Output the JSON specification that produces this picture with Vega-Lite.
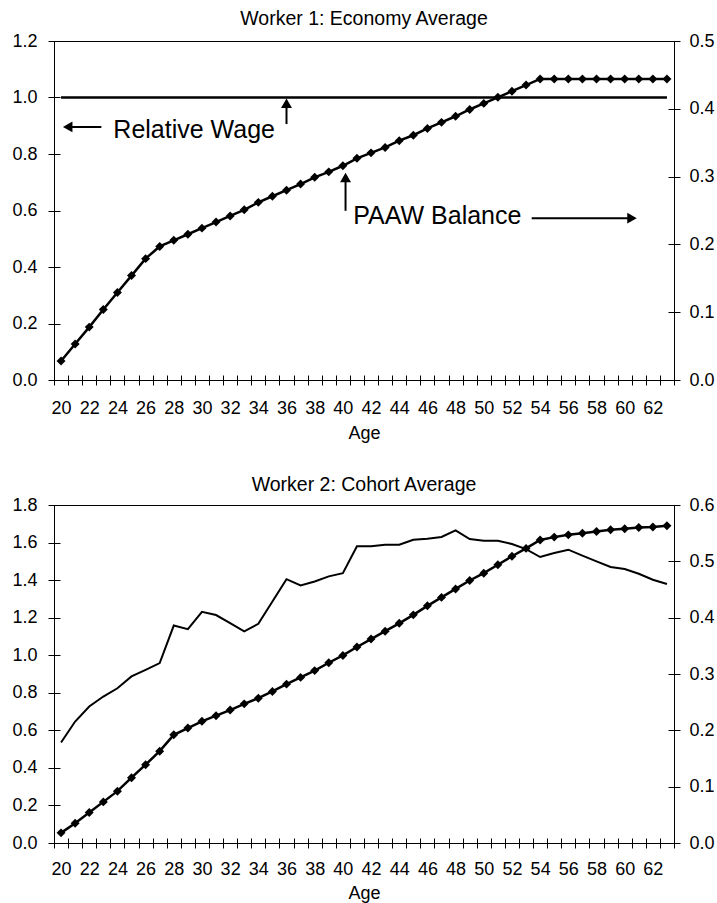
{
  "$schema": "https://vega.github.io/schema/vega-lite/v6.json",
  "background": "white",
  "padding": {"left": 11, "top": 8, "right": 0, "bottom": 0},
  "spacing": 31,
  "config": {
    "font": "Liberation Sans",
    "view": {"stroke": "#000000", "strokeWidth": 1},
    "axis": {"grid": false, "ticks": true, "labelColor": "black", "tickColor": "#000000", "titleColor": "black", "labelFontSize": 18, "titleFontSize": 18, "titleFontWeight": "normal", "labelFont": "Liberation Sans", "titleFont": "Liberation Sans", "tickWidth": 1, "tickOpacity": 1},
    "title": {"fontSize": 19.5, "fontWeight": "normal", "color": "black", "offset": 1, "font": "Liberation Sans"}
  },
  "datasets": {
    "w1": [
      {"age": 20, "rw": 1, "paaw": 0.028}, {"age": 21, "rw": 1, "paaw": 0.053}, {"age": 22, "rw": 1, "paaw": 0.078},
      {"age": 23, "rw": 1, "paaw": 0.104}, {"age": 24, "rw": 1, "paaw": 0.129}, {"age": 25, "rw": 1, "paaw": 0.154},
      {"age": 26, "rw": 1, "paaw": 0.179}, {"age": 27, "rw": 1, "paaw": 0.197}, {"age": 28, "rw": 1, "paaw": 0.206},
      {"age": 29, "rw": 1, "paaw": 0.215}, {"age": 30, "rw": 1, "paaw": 0.224}, {"age": 31, "rw": 1, "paaw": 0.233},
      {"age": 32, "rw": 1, "paaw": 0.242}, {"age": 33, "rw": 1, "paaw": 0.251}, {"age": 34, "rw": 1, "paaw": 0.262},
      {"age": 35, "rw": 1, "paaw": 0.271}, {"age": 36, "rw": 1, "paaw": 0.28}, {"age": 37, "rw": 1, "paaw": 0.289},
      {"age": 38, "rw": 1, "paaw": 0.299}, {"age": 39, "rw": 1, "paaw": 0.307}, {"age": 40, "rw": 1, "paaw": 0.316},
      {"age": 41, "rw": 1, "paaw": 0.327}, {"age": 42, "rw": 1, "paaw": 0.335}, {"age": 43, "rw": 1, "paaw": 0.343},
      {"age": 44, "rw": 1, "paaw": 0.353}, {"age": 45, "rw": 1, "paaw": 0.361}, {"age": 46, "rw": 1, "paaw": 0.371},
      {"age": 47, "rw": 1, "paaw": 0.38}, {"age": 48, "rw": 1, "paaw": 0.389}, {"age": 49, "rw": 1, "paaw": 0.399},
      {"age": 50, "rw": 1, "paaw": 0.408}, {"age": 51, "rw": 1, "paaw": 0.417}, {"age": 52, "rw": 1, "paaw": 0.426},
      {"age": 53, "rw": 1, "paaw": 0.435}, {"age": 54, "rw": 1, "paaw": 0.444}, {"age": 55, "rw": 1, "paaw": 0.444},
      {"age": 56, "rw": 1, "paaw": 0.444}, {"age": 57, "rw": 1, "paaw": 0.444}, {"age": 58, "rw": 1, "paaw": 0.444},
      {"age": 59, "rw": 1, "paaw": 0.444}, {"age": 60, "rw": 1, "paaw": 0.444}, {"age": 61, "rw": 1, "paaw": 0.444},
      {"age": 62, "rw": 1, "paaw": 0.444}, {"age": 63, "rw": 1, "paaw": 0.444}
    ],
    "w2": [
      {"age": 20, "rw": 0.535, "paaw": 0.018}, {"age": 21, "rw": 0.647, "paaw": 0.035}, {"age": 22, "rw": 0.727, "paaw": 0.054},
      {"age": 23, "rw": 0.78, "paaw": 0.073}, {"age": 24, "rw": 0.824, "paaw": 0.092}, {"age": 25, "rw": 0.887, "paaw": 0.116},
      {"age": 26, "rw": 0.922, "paaw": 0.139}, {"age": 27, "rw": 0.958, "paaw": 0.163}, {"age": 28, "rw": 1.158, "paaw": 0.192},
      {"age": 29, "rw": 1.139, "paaw": 0.204}, {"age": 30, "rw": 1.231, "paaw": 0.216}, {"age": 31, "rw": 1.214, "paaw": 0.226},
      {"age": 32, "rw": 1.171, "paaw": 0.236}, {"age": 33, "rw": 1.127, "paaw": 0.247}, {"age": 34, "rw": 1.167, "paaw": 0.257},
      {"age": 35, "rw": 1.286, "paaw": 0.269}, {"age": 36, "rw": 1.405, "paaw": 0.282}, {"age": 37, "rw": 1.372, "paaw": 0.294},
      {"age": 38, "rw": 1.393, "paaw": 0.306}, {"age": 39, "rw": 1.42, "paaw": 0.32}, {"age": 40, "rw": 1.437, "paaw": 0.333},
      {"age": 41, "rw": 1.58, "paaw": 0.348}, {"age": 42, "rw": 1.58, "paaw": 0.362}, {"age": 43, "rw": 1.588, "paaw": 0.376},
      {"age": 44, "rw": 1.588, "paaw": 0.39}, {"age": 45, "rw": 1.615, "paaw": 0.405}, {"age": 46, "rw": 1.62, "paaw": 0.421},
      {"age": 47, "rw": 1.63, "paaw": 0.436}, {"age": 48, "rw": 1.665, "paaw": 0.451}, {"age": 49, "rw": 1.619, "paaw": 0.466},
      {"age": 50, "rw": 1.61, "paaw": 0.479}, {"age": 51, "rw": 1.61, "paaw": 0.494}, {"age": 52, "rw": 1.592, "paaw": 0.509},
      {"age": 53, "rw": 1.565, "paaw": 0.523}, {"age": 54, "rw": 1.523, "paaw": 0.538}, {"age": 55, "rw": 1.544, "paaw": 0.543},
      {"age": 56, "rw": 1.562, "paaw": 0.547}, {"age": 57, "rw": 1.53, "paaw": 0.55}, {"age": 58, "rw": 1.5, "paaw": 0.553},
      {"age": 59, "rw": 1.47, "paaw": 0.556}, {"age": 60, "rw": 1.459, "paaw": 0.558}, {"age": 61, "rw": 1.434, "paaw": 0.56},
      {"age": 62, "rw": 1.402, "paaw": 0.561}, {"age": 63, "rw": 1.379, "paaw": 0.563}
    ]
  },
  "vconcat": [
    {
      "title": {"text": "Worker 1: Economy Average", "offset": 3},
      "width": 620,
      "height": 339,
      "view": {"stroke": "#000000", "strokeWidth": 1},
      "data": {"name": "w1"},
      "resolve": {"scale": {"y": "independent"}, "axis": {"x": "independent", "y": "independent"}},
      "layer": [
        {
          "mark": {"type": "line", "color": "black", "strokeWidth": 2.5},
          "encoding": {
            "x": {"field": "age", "type": "quantitative", "scale": {"domain": [19.5, 63.5], "nice": false, "zero": false},
              "axis": {"orient": "bottom", "values": [19.5,20.5,21.5,22.5,23.5,24.5,25.5,26.5,27.5,28.5,29.5,30.5,31.5,32.5,33.5,34.5,35.5,36.5,37.5,38.5,39.5,40.5,41.5,42.5,43.5,44.5,45.5,46.5,47.5,48.5,49.5,50.5,51.5,52.5,53.5,54.5,55.5,56.5,57.5,58.5,59.5,60.5,61.5,62.5,63.5], "labels": false, "ticks": true, "tickColor": "#000000", "tickWidth": 1, "domain": false, "tickSize": 10, "offset": -5, "title": null, "zindex": 2}},
            "y": {"field": "rw", "type": "quantitative", "scale": {"domain": [0, 1.2], "nice": false},
              "axis": {"orient": "left", "values": [0, 0.2, 0.4, 0.6, 0.8, 1, 1.2], "format": ".1f", "ticks": true, "tickColor": "#000000", "tickWidth": 1, "domain": false, "tickSize": 12, "offset": -6, "labelPadding": 11, "title": null, "zindex": 2}}
          }
        },
        {
          "mark": {"type": "line", "color": "black", "strokeWidth": 2.5, "point": {"shape": "diamond", "size": 80, "filled": true, "color": "black", "opacity": 1}},
          "encoding": {
            "x": {"field": "age", "type": "quantitative", "scale": {"domain": [19.5, 63.5], "nice": false, "zero": false},
              "axis": {"orient": "bottom", "values": [20,22,24,26,28,30,32,34,36,38,40,42,44,46,48,50,52,54,56,58,60,62], "ticks": false, "tickSize": 0, "domain": false, "labelPadding": 19, "title": "Age", "titlePadding": 7}},
            "y": {"field": "paaw", "type": "quantitative", "scale": {"domain": [0, 0.5], "nice": false},
              "axis": {"orient": "right", "values": [0, 0.1, 0.2, 0.3, 0.4, 0.5], "format": ".1f", "ticks": true, "tickColor": "#000000", "tickWidth": 1, "domain": false, "tickSize": 12, "offset": -6, "labelPadding": 9, "title": null, "zindex": 2}}
          }
        },
        {
          "data": {"values": [{}]},
          "mark": {"type": "rule", "color": "black", "strokeWidth": 2},
          "encoding": {
            "x": {"datum": 20.6, "scale": {"domain": [19.5, 63.5], "nice": false, "zero": false}, "axis": null},
            "x2": {"datum": 22.86},
            "y": {"datum": 0.896, "scale": {"domain": [0, 1.2], "nice": false}, "axis": null}
          }
        },
        {
          "data": {"values": [{}]},
          "mark": {"type": "point", "shape": "triangle-left", "filled": true, "color": "black", "opacity": 1, "size": 120},
          "encoding": {
            "x": {"datum": 20.47, "scale": {"domain": [19.5, 63.5], "nice": false, "zero": false}, "axis": null},
            "y": {"datum": 0.896, "scale": {"domain": [0, 1.2], "nice": false}, "axis": null}
          }
        },
        {
          "data": {"values": [{}]},
          "mark": {"type": "text", "color": "black", "fontSize": 25, "align": "left", "baseline": "alphabetic", "font": "Liberation Sans"},
          "encoding": {
            "x": {"datum": 23.71, "scale": {"domain": [19.5, 63.5], "nice": false, "zero": false}, "axis": null},
            "y": {"datum": 0.858, "scale": {"domain": [0, 1.2], "nice": false}, "axis": null},
            "text": {"value": "Relative Wage"}
          }
        },
        {
          "data": {"values": [{}]},
          "mark": {"type": "rule", "color": "black", "strokeWidth": 2},
          "encoding": {
            "x": {"datum": 36, "scale": {"domain": [19.5, 63.5], "nice": false, "zero": false}, "axis": null},
            "y": {"datum": 0.906, "scale": {"domain": [0, 1.2], "nice": false}, "axis": null},
            "y2": {"datum": 0.975}
          }
        },
        {
          "data": {"values": [{}]},
          "mark": {"type": "point", "shape": "triangle-up", "filled": true, "color": "black", "opacity": 1, "size": 120},
          "encoding": {
            "x": {"datum": 36, "scale": {"domain": [19.5, 63.5], "nice": false, "zero": false}, "axis": null},
            "y": {"datum": 0.98, "scale": {"domain": [0, 1.2], "nice": false}, "axis": null}
          }
        },
        {
          "data": {"values": [{}]},
          "mark": {"type": "rule", "color": "black", "strokeWidth": 2},
          "encoding": {
            "x": {"datum": 40.19, "scale": {"domain": [19.5, 63.5], "nice": false, "zero": false}, "axis": null},
            "y": {"datum": 0.599, "scale": {"domain": [0, 1.2], "nice": false}, "axis": null},
            "y2": {"datum": 0.71}
          }
        },
        {
          "data": {"values": [{}]},
          "mark": {"type": "point", "shape": "triangle-up", "filled": true, "color": "black", "opacity": 1, "size": 120},
          "encoding": {
            "x": {"datum": 40.19, "scale": {"domain": [19.5, 63.5], "nice": false, "zero": false}, "axis": null},
            "y": {"datum": 0.717, "scale": {"domain": [0, 1.2], "nice": false}, "axis": null}
          }
        },
        {
          "data": {"values": [{}]},
          "mark": {"type": "text", "color": "black", "fontSize": 25, "align": "left", "baseline": "alphabetic", "font": "Liberation Sans"},
          "encoding": {
            "x": {"datum": 40.74, "scale": {"domain": [19.5, 63.5], "nice": false, "zero": false}, "axis": null},
            "y": {"datum": 0.552, "scale": {"domain": [0, 1.2], "nice": false}, "axis": null},
            "text": {"value": "PAAW Balance"}
          }
        },
        {
          "data": {"values": [{}]},
          "mark": {"type": "rule", "color": "black", "strokeWidth": 2},
          "encoding": {
            "x": {"datum": 53.4, "scale": {"domain": [19.5, 63.5], "nice": false, "zero": false}, "axis": null},
            "x2": {"datum": 60.3},
            "y": {"datum": 0.573, "scale": {"domain": [0, 1.2], "nice": false}, "axis": null}
          }
        },
        {
          "data": {"values": [{}]},
          "mark": {"type": "point", "shape": "triangle-right", "filled": true, "color": "black", "opacity": 1, "size": 120},
          "encoding": {
            "x": {"datum": 60.52, "scale": {"domain": [19.5, 63.5], "nice": false, "zero": false}, "axis": null},
            "y": {"datum": 0.573, "scale": {"domain": [0, 1.2], "nice": false}, "axis": null}
          }
        }
      ]
    },
    {
      "title": {"text": "Worker 2: Cohort Average", "offset": 1},
      "width": 620,
      "height": 338,
      "view": {"stroke": "#000000", "strokeWidth": 1},
      "data": {"name": "w2"},
      "resolve": {"scale": {"y": "independent"}, "axis": {"x": "independent", "y": "independent"}},
      "layer": [
        {
          "mark": {"type": "line", "color": "black", "strokeWidth": 2},
          "encoding": {
            "x": {"field": "age", "type": "quantitative", "scale": {"domain": [19.5, 63.5], "nice": false, "zero": false},
              "axis": {"orient": "bottom", "values": [19.5,20.5,21.5,22.5,23.5,24.5,25.5,26.5,27.5,28.5,29.5,30.5,31.5,32.5,33.5,34.5,35.5,36.5,37.5,38.5,39.5,40.5,41.5,42.5,43.5,44.5,45.5,46.5,47.5,48.5,49.5,50.5,51.5,52.5,53.5,54.5,55.5,56.5,57.5,58.5,59.5,60.5,61.5,62.5,63.5], "labels": false, "ticks": true, "tickColor": "#000000", "tickWidth": 1, "domain": false, "tickSize": 10, "offset": -5, "title": null, "zindex": 2}},
            "y": {"field": "rw", "type": "quantitative", "scale": {"domain": [0, 1.8], "nice": false},
              "axis": {"orient": "left", "values": [0, 0.2, 0.4, 0.6, 0.8, 1, 1.2, 1.4, 1.6, 1.8], "format": ".1f", "ticks": true, "tickColor": "#000000", "tickWidth": 1, "domain": false, "tickSize": 12, "offset": -6, "labelPadding": 11, "title": null, "zindex": 2}}
          }
        },
        {
          "mark": {"type": "line", "color": "black", "strokeWidth": 2.5, "point": {"shape": "diamond", "size": 80, "filled": true, "color": "black", "opacity": 1}},
          "encoding": {
            "x": {"field": "age", "type": "quantitative", "scale": {"domain": [19.5, 63.5], "nice": false, "zero": false},
              "axis": {"orient": "bottom", "values": [20,22,24,26,28,30,32,34,36,38,40,42,44,46,48,50,52,54,56,58,60,62], "ticks": false, "tickSize": 0, "domain": false, "labelPadding": 17, "title": "Age", "titlePadding": 6}},
            "y": {"field": "paaw", "type": "quantitative", "scale": {"domain": [0, 0.6], "nice": false},
              "axis": {"orient": "right", "values": [0, 0.1, 0.2, 0.3, 0.4, 0.5, 0.6], "format": ".1f", "ticks": true, "tickColor": "#000000", "tickWidth": 1, "domain": false, "tickSize": 12, "offset": -6, "labelPadding": 9, "title": null, "zindex": 2}}
          }
        }
      ]
    }
  ]
}
